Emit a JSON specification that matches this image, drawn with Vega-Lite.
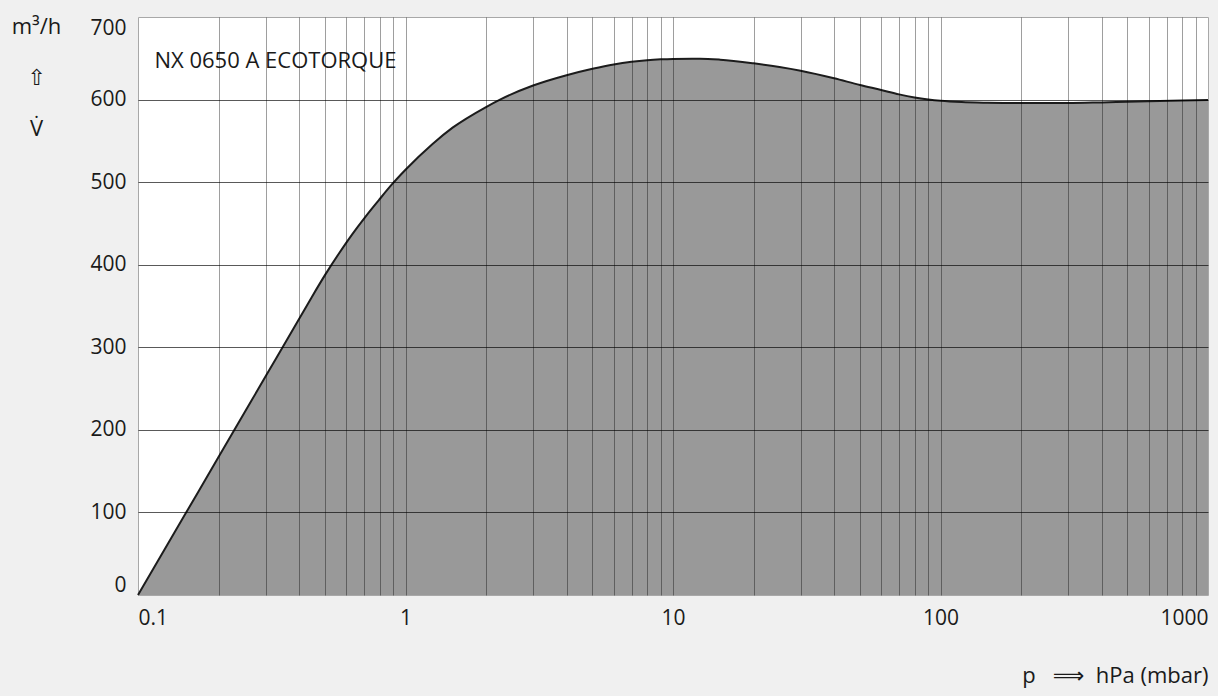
{
  "$schema": "https://vega.github.io/schema/vega-lite/v6.json",
  "width": 1070,
  "height": 578,
  "autosize": {"type": "none"},
  "padding": {"left": 138, "top": 17, "right": 10, "bottom": 101},
  "background": "#f0f0f0",
  "config": {
    "font": "Open Sans",
    "view": {"fill": "white", "stroke": "#a8a8a8", "strokeWidth": 1},
    "axis": {
      "domain": false,
      "ticks": false,
      "tickSize": 0,
      "labelColor": "#1a1a1a",
      "titleColor": "#1a1a1a",
      "labelFont": "Open Sans",
      "titleFont": "'Open Sans', 'DejaVu Sans'",
      "labelFontSize": 21,
      "titleFontSize": 22,
      "titleFontWeight": "normal",
      "zindex": 1
    }
  },
  "data": {
    "values": [
      {"p": 0.1, "V": 0},
      {"p": 0.15, "V": 97.7},
      {"p": 0.2, "V": 167},
      {"p": 0.3, "V": 264.8},
      {"p": 0.4, "V": 334.2},
      {"p": 0.4467, "V": 361},
      {"p": 0.5012, "V": 388},
      {"p": 0.5623, "V": 413},
      {"p": 0.631, "V": 436.5},
      {"p": 0.708, "V": 458},
      {"p": 0.794, "V": 478},
      {"p": 0.891, "V": 497.5},
      {"p": 1, "V": 515},
      {"p": 1.259, "V": 546},
      {"p": 1.5, "V": 566},
      {"p": 2, "V": 591},
      {"p": 2.256, "V": 600},
      {"p": 3, "V": 617},
      {"p": 4, "V": 629.5},
      {"p": 5, "V": 637.3},
      {"p": 6, "V": 642.6},
      {"p": 7, "V": 645.8},
      {"p": 8, "V": 647.7},
      {"p": 9, "V": 648.7},
      {"p": 10, "V": 649.2},
      {"p": 12.6, "V": 649.5},
      {"p": 15, "V": 648.3},
      {"p": 20, "V": 643.9},
      {"p": 25, "V": 639.5},
      {"p": 30, "V": 635},
      {"p": 40, "V": 625.8},
      {"p": 50, "V": 617.6},
      {"p": 60, "V": 611.6},
      {"p": 70, "V": 606.3},
      {"p": 80, "V": 602.6},
      {"p": 90, "V": 600.2},
      {"p": 100, "V": 598.6},
      {"p": 120, "V": 597},
      {"p": 150, "V": 596.2},
      {"p": 200, "V": 595.8},
      {"p": 300, "V": 595.8},
      {"p": 400, "V": 596.6},
      {"p": 500, "V": 597.4},
      {"p": 600, "V": 598},
      {"p": 800, "V": 598.9},
      {"p": 1000, "V": 599.4}
    ]
  },
  "layer": [
    {
      "mark": {
        "type": "area",
        "color": "#999999",
        "opacity": 1,
        "fillOpacity": 1,
        "interpolate": "monotone",
        "line": {"color": "#1c1c1c", "strokeWidth": 2}
      },
      "encoding": {
        "x": {
          "field": "p",
          "type": "quantitative",
          "scale": {"type": "log", "domain": [0.1, 1000], "nice": false},
          "axis": {
            "values": [0.1, 0.2, 0.3, 0.4, 0.5, 0.6, 0.7, 0.8, 0.9, 1, 2, 3, 4, 5, 6, 7, 8, 9, 10, 20, 30, 40, 50, 60, 70, 80, 90, 100, 200, 300, 400, 500, 600, 700, 800, 900, 1000],
            "labelExpr": "indexof([0.1, 1, 10, 100, 1000], datum.value) >= 0 ? format(datum.value, '~g') : ''",
            "labelFlush": true,
            "labelOverlap": false,
            "labelPadding": 12,
            "grid": true,
            "gridColor": "black",
            "gridWidth": 1,
            "gridOpacity": {"condition": {"test": "datum.value <= 0.1 || datum.value >= 1000", "value": 0}, "value": 0.38},
            "zindex": 1,
            "title": "p \u00a0\u00a0⟹ \u00a0hPa (mbar)",
            "titleAnchor": "end",
            "titleAlign": "right",
            "titleBaseline": "alphabetic",
            "titleY": 87
          }
        },
        "y": {
          "field": "V",
          "type": "quantitative",
          "scale": {"domain": [0, 700], "nice": false},
          "axis": {
            "values": [0, 100, 200, 300, 400, 500, 600, 700],
            "labelFlush": true,
            "labelPadding": 12,
            "grid": true,
            "gridColor": "black",
            "gridWidth": 1,
            "gridOpacity": {"condition": {"test": "datum.value <= 0 || datum.value >= 700", "value": 0}, "value": 0.65},
            "zindex": 1,
            "title": ["m³/h", "⇧", "V̇"],
            "titleAngle": 0,
            "titleAlign": "center",
            "titleBaseline": "alphabetic",
            "titleLineHeight": 51,
            "titleX": -102,
            "titleY": 16
          }
        }
      }
    },
    {
      "data": {"values": [{"label": "NX 0650 A ECOTORQUE"}]},
      "mark": {"type": "text", "align": "left", "baseline": "alphabetic", "fontSize": 22, "font": "Open Sans", "color": "#1a1a1a"},
      "encoding": {
        "x": {"datum": 0.1152},
        "y": {"datum": 638},
        "text": {"field": "label"}
      }
    }
  ]
}
